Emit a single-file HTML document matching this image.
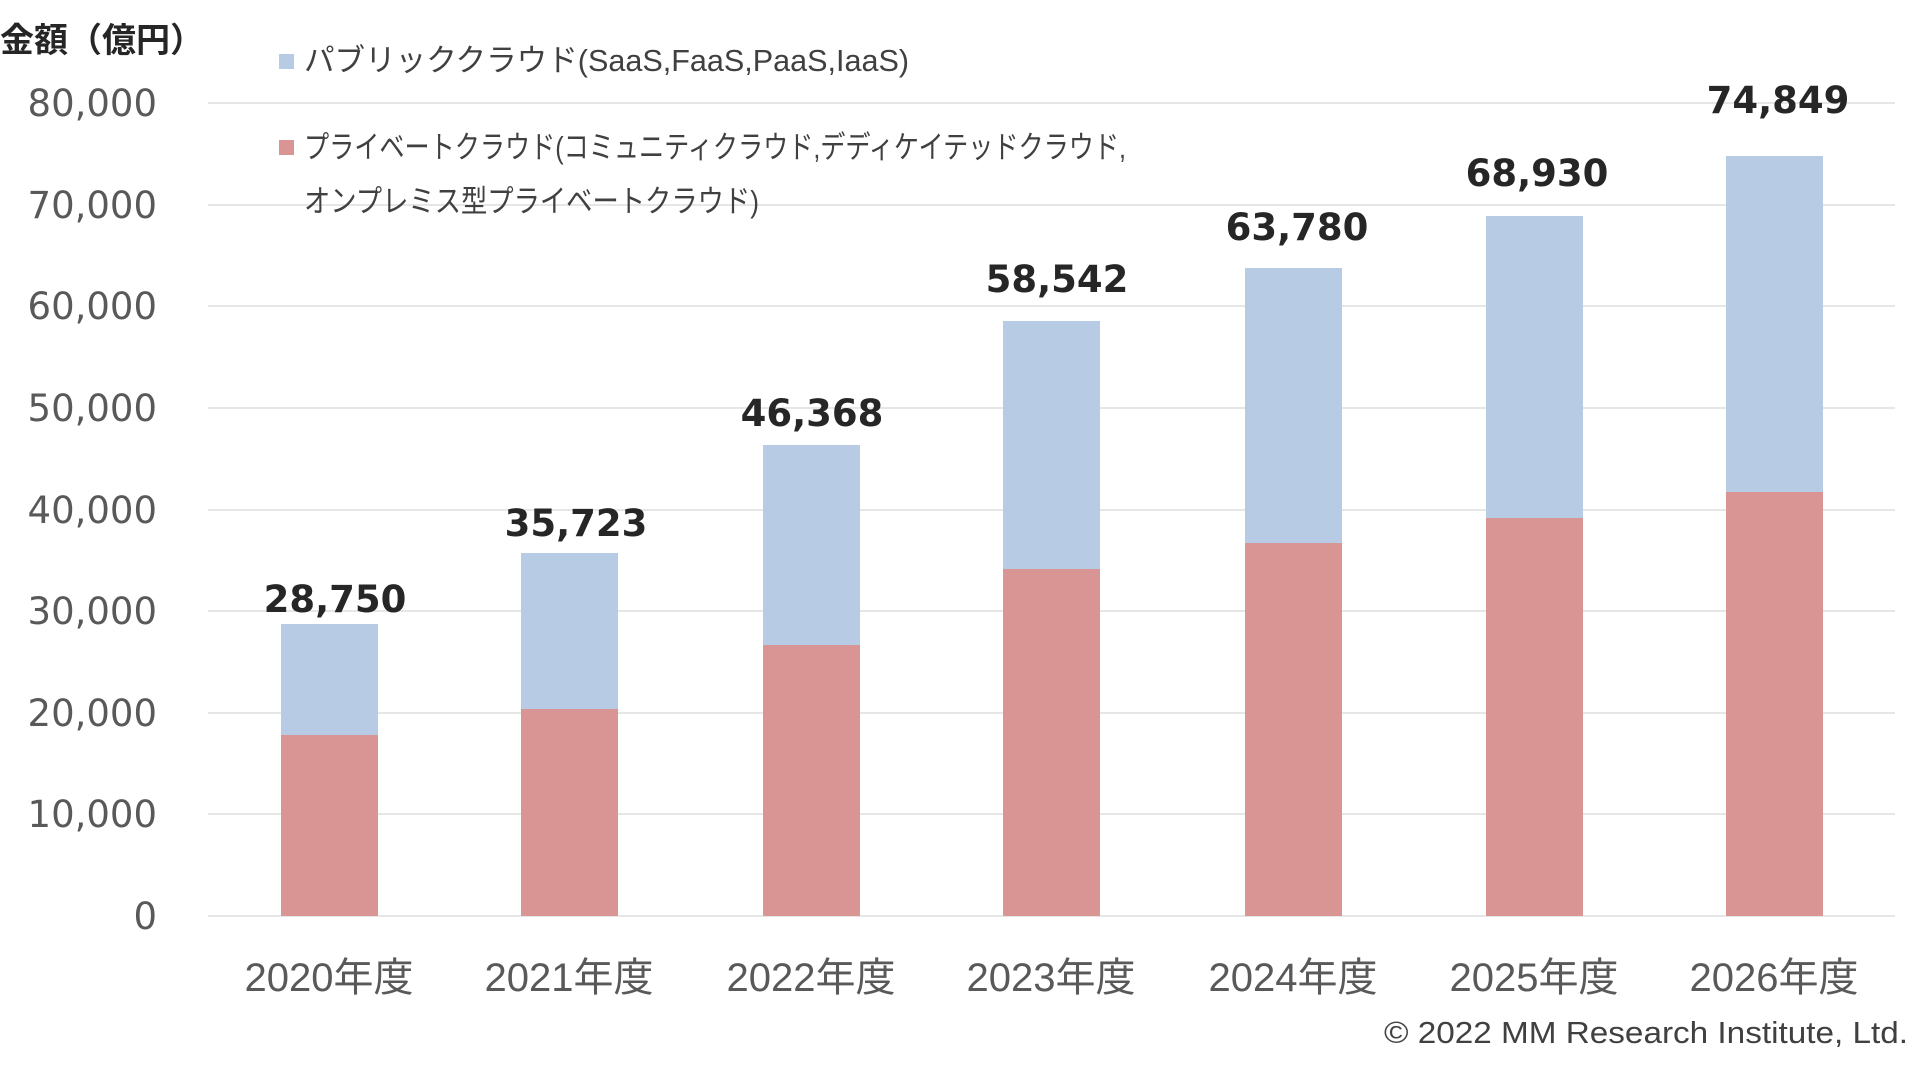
<!DOCTYPE html>
<html><head><meta charset="utf-8"><style>
html,body{margin:0;padding:0;background:#fff;width:1920px;height:1080px;overflow:hidden}
</style></head><body>
<svg width="1920" height="1080" xmlns="http://www.w3.org/2000/svg">
<g stroke="#e6e6e6" stroke-width="2">
<line x1="208" x2="1895" y1="103" y2="103"/><line x1="208" x2="1895" y1="205" y2="205"/>
<line x1="208" x2="1895" y1="306" y2="306"/><line x1="208" x2="1895" y1="408" y2="408"/>
<line x1="208" x2="1895" y1="510" y2="510"/><line x1="208" x2="1895" y1="611" y2="611"/>
<line x1="208" x2="1895" y1="713" y2="713"/><line x1="208" x2="1895" y1="814" y2="814"/>
<line x1="208" x2="1895" y1="916" y2="916"/>
</g>
<g font-family="DejaVu Sans, sans-serif" font-size="37" fill="#595959" text-anchor="end">
<text x="157" y="116">80,000</text><text x="157" y="218">70,000</text><text x="157" y="319">60,000</text>
<text x="157" y="421">50,000</text><text x="157" y="523">40,000</text><text x="157" y="624">30,000</text>
<text x="157" y="726">20,000</text><text x="157" y="827">10,000</text><text x="157" y="929">0</text>
</g>
<g>
<rect x="281" y="624" width="97" height="112" fill="#b7cce4"/><rect x="281" y="735" width="97" height="181" fill="#d99594"/>
<rect x="521" y="553" width="97" height="156" fill="#b7cce4"/><rect x="521" y="709" width="97" height="207" fill="#d99594"/>
<rect x="763" y="445" width="97" height="201" fill="#b7cce4"/><rect x="763" y="645" width="97" height="271" fill="#d99594"/>
<rect x="1003" y="321" width="97" height="249" fill="#b7cce4"/><rect x="1003" y="569" width="97" height="347" fill="#d99594"/>
<rect x="1245" y="268" width="97" height="276" fill="#b7cce4"/><rect x="1245" y="543" width="97" height="373" fill="#d99594"/>
<rect x="1486" y="216" width="97" height="305" fill="#b7cce4"/><rect x="1486" y="518" width="97" height="398" fill="#d99594"/>
<rect x="1726" y="156" width="97" height="337" fill="#b7cce4"/><rect x="1726" y="492" width="97" height="424" fill="#d99594"/>
</g>
<g font-family="DejaVu Sans, sans-serif" font-weight="bold" font-size="37" fill="#262626" text-anchor="middle">
<text x="335" y="612">28,750</text><text x="576" y="536">35,723</text><text x="812" y="426">46,368</text>
<text x="1057" y="292">58,542</text><text x="1297" y="240">63,780</text><text x="1537" y="186">68,930</text>
<text x="1778" y="113">74,849</text>
</g>
<g font-family="Liberation Sans, 'Noto Sans CJK JP', sans-serif" font-size="40" fill="#595959" text-anchor="middle">
<text x="329" y="991">2020年度</text><text x="569" y="991">2021年度</text><text x="811" y="991">2022年度</text>
<text x="1051" y="991">2023年度</text><text x="1293" y="991">2024年度</text><text x="1534" y="991">2025年度</text>
<text x="1774" y="991">2026年度</text>
</g>
<text x="0" y="52" font-family="Liberation Sans, 'Noto Sans CJK JP', sans-serif" font-weight="bold" font-size="34" fill="#262626">金額（億円）</text>
<rect x="279" y="54" width="15" height="15" fill="#b7cce4"/>
<rect x="279" y="140" width="15" height="15" fill="#d99594"/>
<g font-family="Liberation Sans, 'Noto Sans CJK JP', sans-serif" font-size="31" fill="#404040">
<text x="304" y="71" textLength="605" lengthAdjust="spacingAndGlyphs">パブリッククラウド(SaaS,FaaS,PaaS,IaaS)</text>
<text x="304" y="158" textLength="822" lengthAdjust="spacingAndGlyphs">プライベートクラウド(コミュニティクラウド,デディケイテッドクラウド,</text>
<text x="304" y="212" textLength="455" lengthAdjust="spacingAndGlyphs">オンプレミス型プライベートクラウド)</text>
</g>
<text x="1384" y="1043" textLength="524" lengthAdjust="spacingAndGlyphs" font-family="Liberation Sans, sans-serif" font-size="31" fill="#404040">© 2022 MM Research Institute, Ltd.</text>
</svg>
</body></html>
